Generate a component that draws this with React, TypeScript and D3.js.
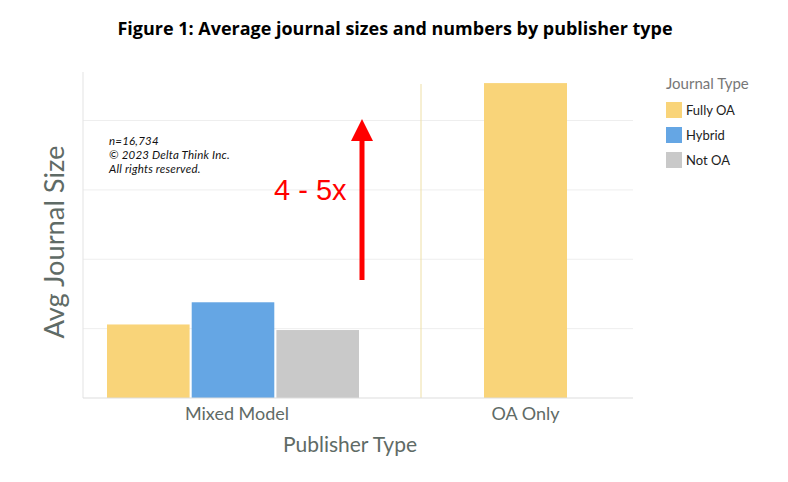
import { useMemo } from "react";
import * as d3 from "d3";

// data
const publisherTypes = ["Mixed Model", "OA Only"];
const journalTypes = ["Fully OA", "Hybrid", "Not OA"];
const mixedModelSizes = [53, 69, 49];
const oaOnlySizes = [227];
const yTickValues = [0, 50, 100, 150, 200];
const colors = ["#f9d479", "#65a6e4", "#c9c9c9"];
const notes = ["n=16,734", "© 2023 Delta Think Inc.", "All rights reserved."];

const W = 788;
const H = 482;
const plot = { left: 83, right: 633, top: 72, bottom: 398 };
const panelEdges = [83, 421, 633];

export default function App() {
  const y = useMemo(
    () => d3.scaleLinear().domain([0, 235]).range([plot.bottom, plot.top]),
    []
  );

  // bar slots inside each publisher panel
  const bars = useMemo(() => {
    const mixed = d3
      .scaleBand<string>()
      .domain(journalTypes)
      .range([107, 359])
      .paddingInner(0.025);
    const oa = d3
      .scaleBand<string>()
      .domain([journalTypes[0]])
      .range([484, 567]);
    const out: { key: string; x: number; w: number; y: number; h: number; fill: string }[] = [];
    mixedModelSizes.forEach((v, i) => {
      out.push({
        key: `m-${i}`,
        x: mixed(journalTypes[i]) ?? 0,
        w: mixed.bandwidth(),
        y: y(v),
        h: y(0) - y(v),
        fill: colors[i],
      });
    });
    oaOnlySizes.forEach((v, i) => {
      out.push({
        key: `o-${i}`,
        x: oa(journalTypes[i]) ?? 0,
        w: oa.bandwidth(),
        y: y(v),
        h: y(0) - y(v),
        fill: colors[i],
      });
    });
    return {
      out,
      labelX: [
        ((mixed(journalTypes[0]) ?? 0) + (mixed(journalTypes[2]) ?? 0) + mixed.bandwidth()) / 2 + 4,
        (oa(journalTypes[0]) ?? 0) + oa.bandwidth() / 2,
      ],
    };
  }, [y]);

  return (
    <svg
      width={W}
      height={H}
      viewBox={`0 0 ${W} ${H}`}
      style={{ position: "absolute", left: 0, top: 0, background: "#fff" }}
    >
      {/* title */}
      <text
        x={395}
        y={35}
        textAnchor="middle"
        fontFamily="'Open Sans', 'Liberation Sans', sans-serif"
        fontWeight="bold"
        fontSize={17.5}
        textLength={555}
        lengthAdjust="spacingAndGlyphs"
        fill="#000"
      >
        Figure 1: Average journal sizes and numbers by publisher type
      </text>

      {/* grid */}
      {yTickValues.slice(1).map((t) => (
        <line
          key={t}
          x1={plot.left}
          x2={plot.right}
          y1={y(t)}
          y2={y(t)}
          stroke="#eeeeee"
        />
      ))}
      <line x1={plot.left} x2={plot.left} y1={plot.top} y2={plot.bottom} stroke="#e3e3e3" />
      <line x1={panelEdges[1]} x2={panelEdges[1]} y1={84} y2={plot.bottom} stroke="#eedfa6" />

      {/* bars */}
      {bars.out.map((b) => (
        <rect key={b.key} x={b.x} y={b.y} width={b.w} height={b.h} fill={b.fill} />
      ))}
      <line x1={plot.left} x2={plot.right} y1={y(0)} y2={y(0)} stroke="#dddddd" />

      {/* x labels */}
      {publisherTypes.map((p, i) => (
        <text
          key={p}
          x={bars.labelX[i]}
          y={420}
          textAnchor="middle"
          fontFamily="Lato, sans-serif"
          fontSize={18}
          fill="#5f6b66"
        >
          {p}
        </text>
      ))}
      <text
        x={350}
        y={452}
        textAnchor="middle"
        fontFamily="Lato, sans-serif"
        fontSize={21}
        fill="#5f6b66"
      >
        Publisher Type
      </text>
      <text
        transform="translate(64,242) rotate(-90)"
        textAnchor="middle"
        fontFamily="Lato, sans-serif"
        fontSize={27}
        textLength={193}
        lengthAdjust="spacingAndGlyphs"
        fill="#5f6b66"
      >
        Avg Journal Size
      </text>

      {/* notes */}
      {notes.map((n, i) => (
        <text
          key={n}
          x={109}
          y={145 + i * 14}
          fontFamily="Lato, sans-serif"
          fontStyle="italic"
          fontSize={11.5}
          letterSpacing={0.2}
          fill="#111"
        >
          {n}
        </text>
      ))}

      {/* annotation */}
      <text
        x={274}
        y={200}
        fontFamily="'Liberation Sans', Arial, sans-serif"
        fontSize={29}
        fill="#ff0000"
      >
        4 - 5x
      </text>
      <line x1={362} x2={362} y1={280} y2={139} stroke="#ff0000" strokeWidth={5} />
      <path d="M351,141 L362,119 L373,141 Z" fill="#ff0000" />

      {/* legend */}
      <text x={666} y={89} fontFamily="Lato, sans-serif" fontSize={15} fill="#777">
        Journal Type
      </text>
      {journalTypes.map((j, i) => (
        <g key={j} transform={`translate(666,${102 + i * 25})`}>
          <rect width={16} height={16} fill={colors[i]} />
          <text x={20} y={13} fontFamily="Lato, sans-serif" fontSize={13} fill="#222">
            {j}
          </text>
        </g>
      ))}
    </svg>
  );
}
